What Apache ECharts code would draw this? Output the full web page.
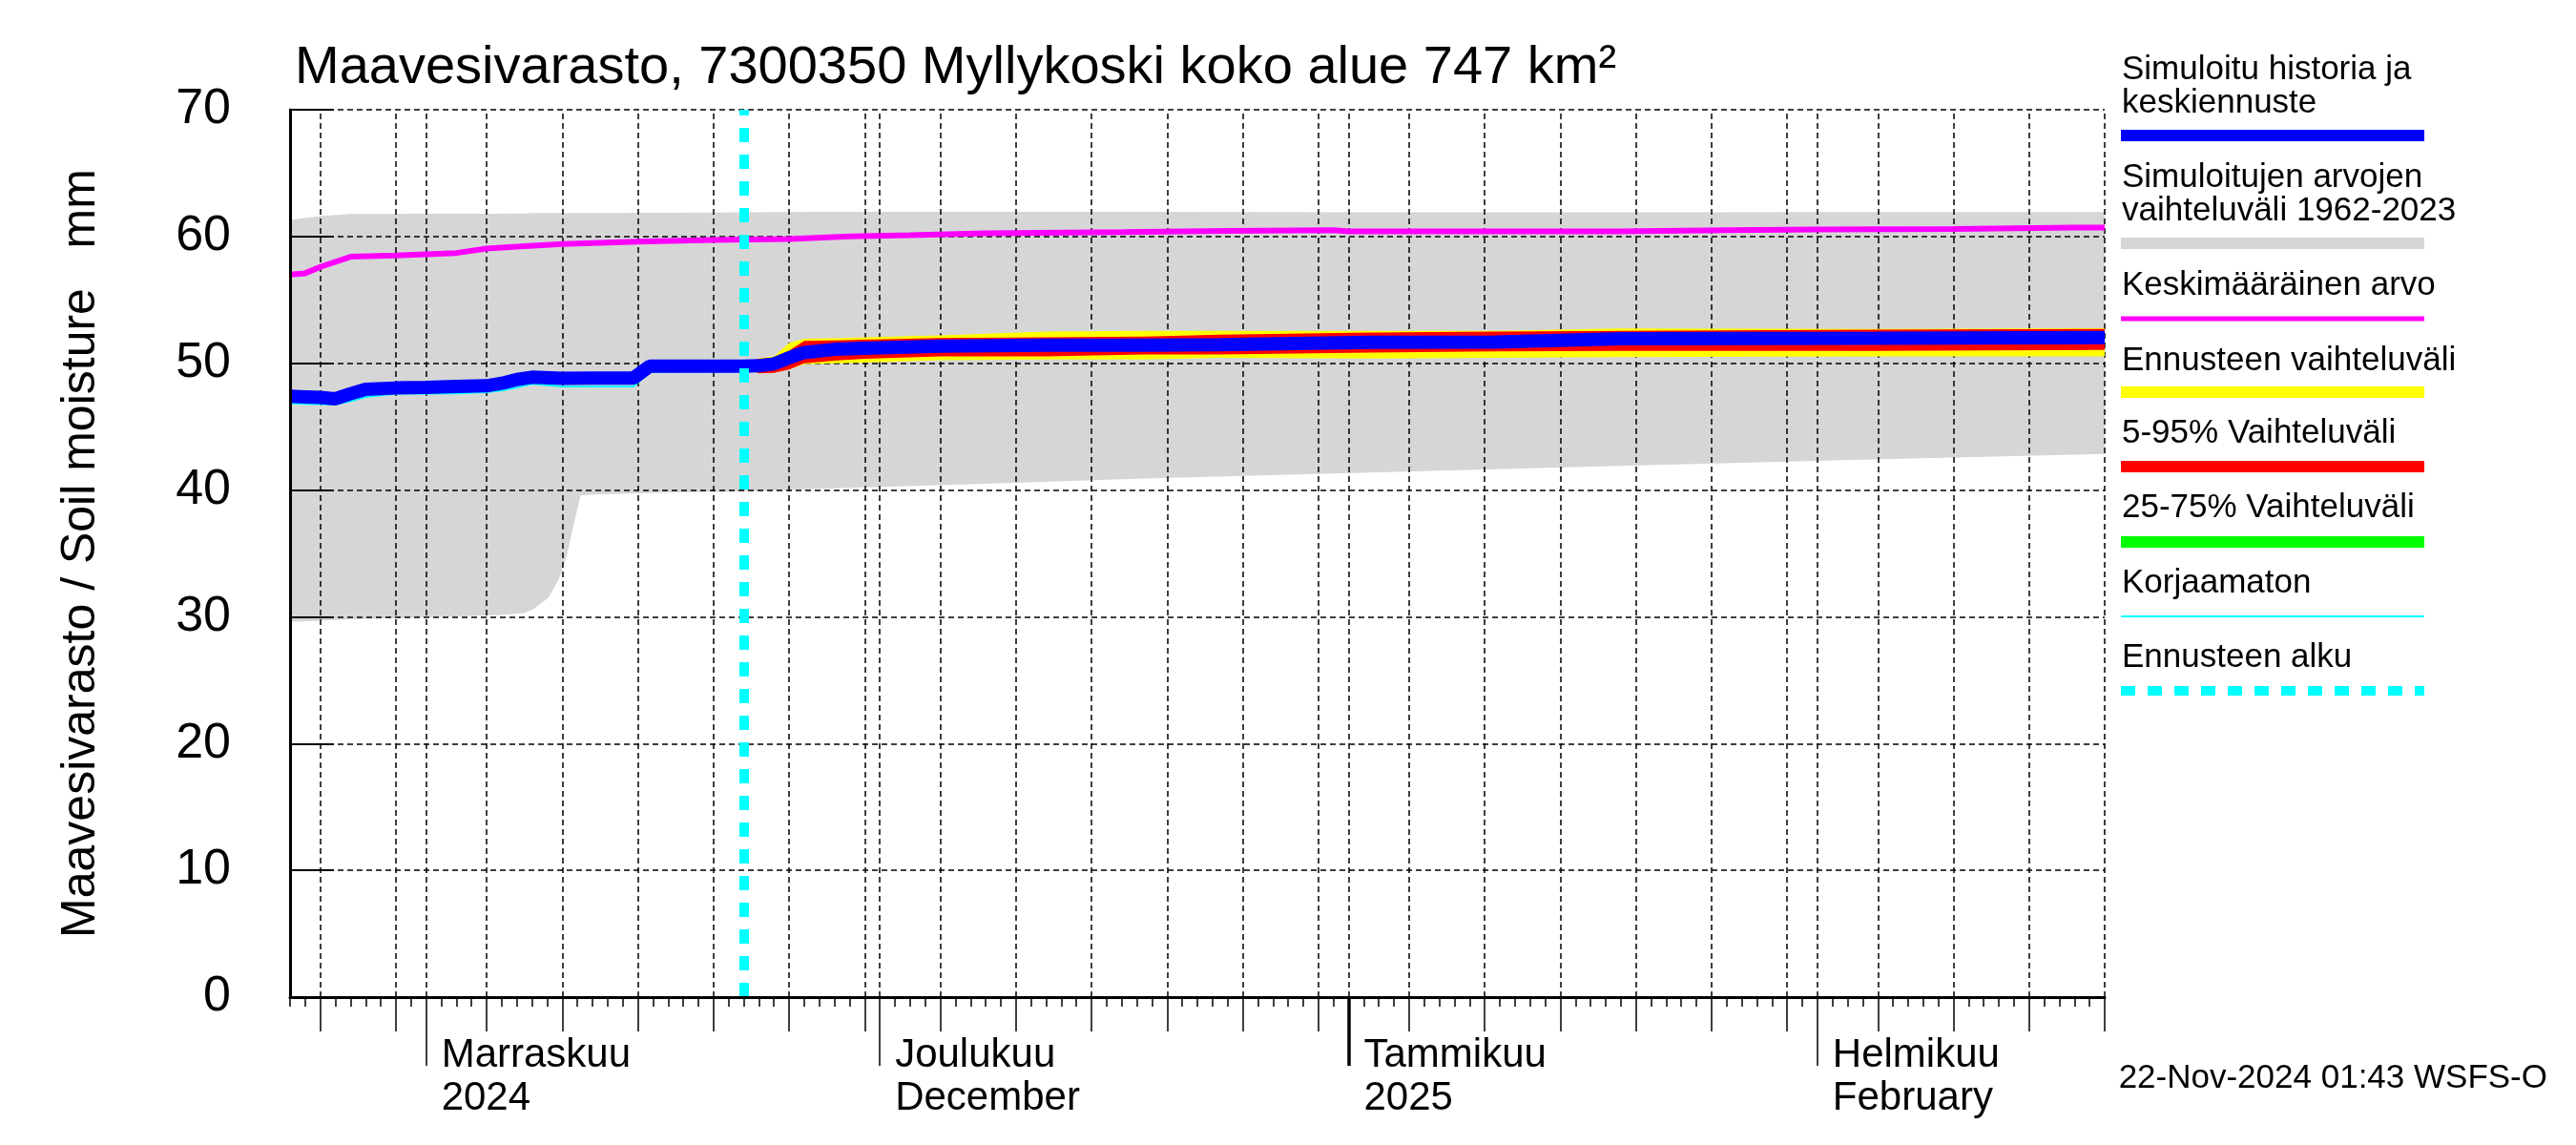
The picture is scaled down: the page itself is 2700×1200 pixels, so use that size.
<!DOCTYPE html>
<html><head><meta charset="utf-8">
<script src="https://cdn.jsdelivr.net/npm/echarts@6/dist/echarts.min.js"></script>
<style>html,body{margin:0;padding:0;background:#fff}#c{width:2700px;height:1200px}</style>
</head><body><div id="c"></div>
<script>
const FONT = "'Liberation Sans', Arial, Helvetica, sans-serif";

// ---------- data ----------
const titleText = 'Maavesivarasto, 7300350 Myllykoski koko alue 747 km²';
const yAxisName = 'Maavesivarasto / Soil moisture   mm';
const footerText = '22-Nov-2024 01:43 WSFS-O';
const xMin = '2024-10-23';
const xMax = '2025-02-20';
const forecastStart = '2024-11-22';
const yTicks = [0, 10, 20, 30, 40, 50, 60, 70];

const monthStarts = ['2024-11-01', '2024-12-01', '2025-01-01', '2025-02-01'];
const monthLabels = ['Marraskuu\n2024', 'Joulukuu\nDecember', 'Tammikuu\n2025', 'Helmikuu\nFebruary'];
const yearStarts = ['2025-01-01'];
const gridDates = ['2024-10-25', '2024-10-30', '2024-11-01', '2024-11-05', '2024-11-10', '2024-11-15',
  '2024-11-20', '2024-11-25', '2024-11-30', '2024-12-01', '2024-12-05', '2024-12-10', '2024-12-15',
  '2024-12-20', '2024-12-25', '2024-12-30', '2025-01-01', '2025-01-05', '2025-01-10', '2025-01-15',
  '2025-01-20', '2025-01-25', '2025-01-30', '2025-02-01', '2025-02-05', '2025-02-10', '2025-02-15',
  '2025-02-20'];

// simulated range 1962-2023
const climDates = ['2024-10-23', '2024-10-25', '2024-10-27', '2024-11-01', '2024-11-06', '2024-11-07 12:00',
  '2024-11-08 02:00', '2024-11-09 02:00', '2024-11-09 19:00', '2024-11-10 07:00', '2024-11-10 17:00',
  '2024-11-11 05:00', '2024-11-12', '2024-11-17', '2024-11-22', '2024-11-27', '2024-12-08',
  '2024-12-18 12:00', '2025-01-03', '2025-01-19', '2025-02-04', '2025-02-20'];
const climLow = [29.6, 29.7, 29.8, 29.95, 30.15, 30.3, 30.6, 31.5, 33.0, 34.8, 37.0, 39.57, 39.65, 39.8,
  39.9, 40.1, 40.5, 40.9, 41.4, 41.9, 42.4, 42.85];
const climHigh = [61.3, 61.6, 61.77, 61.8, 61.8, 61.82, 61.85, 61.85, 61.85, 61.85, 61.85, 61.85, 61.85,
  61.88, 61.9, 61.95, 61.95, 61.95, 61.9, 61.9, 61.92, 61.92];

// mean value
const meanDates = ['2024-10-23', '2024-10-24', '2024-10-25', '2024-10-27', '2024-10-30', '2024-11-01',
  '2024-11-03', '2024-11-05', '2024-11-07', '2024-11-10', '2024-11-15', '2024-11-20', '2024-11-25',
  '2024-11-29', '2024-12-03', '2024-12-08', '2024-12-17', '2024-12-24', '2024-12-31', '2025-01-01',
  '2025-01-19', '2025-01-26', '2025-02-01', '2025-02-10', '2025-02-18', '2025-02-20'];
const meanValues = [57.0, 57.1, 57.6, 58.4, 58.5, 58.6, 58.7, 59.05, 59.2, 59.4, 59.6, 59.72, 59.8, 60.0,
  60.1, 60.25, 60.35, 60.45, 60.5, 60.4, 60.4, 60.5, 60.55, 60.6, 60.7, 60.7];

// simulated history (blue) and uncorrected (cyan)
const histDates = ['2024-10-23', '2024-10-24', '2024-10-25', '2024-10-26', '2024-10-27', '2024-10-28',
  '2024-10-30', '2024-11-01', '2024-11-03', '2024-11-05', '2024-11-06', '2024-11-07', '2024-11-08',
  '2024-11-10', '2024-11-12', '2024-11-14 17:00', '2024-11-15 19:00', '2024-11-18', '2024-11-22'];
const histValues = [47.4, 47.35, 47.3, 47.2, 47.6, 47.95, 48.05, 48.1, 48.17, 48.22, 48.42, 48.72, 48.9,
  48.82, 48.83, 48.83, 49.78, 49.78, 49.78];
const rawValues = [46.85, 46.8, 46.78, 46.75, 47.0, 47.34, 47.6, 47.6, 47.62, 47.72, 47.85, 48.1, 48.37,
  48.17, 48.17, 48.17, 49.3, 49.35, 49.35];

// forecast
const fcDates = ['2024-11-22', '2024-11-23', '2024-11-24', '2024-11-25', '2024-11-26', '2024-11-28',
  '2024-11-30', '2024-12-05', '2024-12-12', '2024-12-18 12:00', '2024-12-23 12:00', '2025-01-02 12:00',
  '2025-01-10 17:00', '2025-01-19', '2025-02-04 22:00', '2025-02-20'];
const fcMedian = [49.78, 49.8, 49.95, 50.43, 50.85, 51.1, 51.18, 51.36, 51.42, 51.43, 51.46, 51.66, 51.68,
  51.93, 51.98, 52.03];
const fcMax = [49.78, 50.4, 50.55, 51.6, 51.93, 51.98, 52.05, 52.2, 52.5, 52.56, 52.56, 52.56, 52.56,
  52.74, 52.7, 52.76];
const fcMin = [49.78, 49.2, 49.25, 49.5, 49.93, 50.0, 50.05, 50.25, 50.3, 50.3, 50.43, 50.38, 50.43,
  50.48, 50.55, 50.55];
const fc95 = [49.78, 50.35, 50.45, 51.0, 51.76, 51.8, 51.86, 52.0, 52.05, 52.1, 52.26, 52.43, 52.5,
  52.56, 52.65, 52.7];
const fc5 = [49.78, 49.2, 49.25, 49.5, 50.0, 50.2, 50.35, 50.55, 50.55, 50.7, 50.7, 50.85, 50.93, 50.98,
  50.98, 51.06];
const fc75 = [49.78, 50.0, 50.2, 50.7, 51.1, 51.35, 51.45, 51.6, 51.65, 51.7, 51.72, 51.9, 51.92, 52.15,
  52.2, 52.25];
const fc25 = [49.78, 49.6, 49.7, 50.1, 50.55, 50.85, 50.92, 51.1, 51.18, 51.2, 51.2, 51.4, 51.42, 51.7,
  51.75, 51.8];

// ---------- build ----------
function T(s) {
  const m = s.match(/^(\d+)-(\d+)-(\d+)(?: (\d+):(\d+))?$/);
  return Date.UTC(+m[1], +m[2] - 1, +m[3], m[4] ? +m[4] : 0, m[5] ? +m[5] : 0);
}
const DAY = 86400000;
const zip = (d, v) => d.map((x, i) => [T(x), v[i]]);
const diff = (d, lo, hi) => d.map((x, i) => [T(x), +(hi[i] - lo[i]).toFixed(3)]);

const dayTicks = [];
for (let t = T(xMin); t <= T(xMax); t += DAY) dayTicks.push(t);

function band(id, dates, lo, hi, color, z) {
  return [
    { type: 'line', stack: id, data: zip(dates, lo), symbol: 'none', lineStyle: { width: 0, opacity: 0 },
      z: z, silent: true, animation: false },
    { type: 'line', stack: id, data: diff(dates, lo, hi), symbol: 'none', lineStyle: { width: 0, opacity: 0 },
      areaStyle: { color: color, opacity: 1 }, z: z, silent: true, animation: false }
  ];
}

const blueData = zip(histDates, histValues).concat(zip(fcDates.slice(1), fcMedian.slice(1)));

const baseX = {
  type: 'value', min: T(xMin), max: T(xMax), position: 'bottom', z: 10, scale: true,
  axisLine: { show: false, onZero: false }, splitLine: { show: false }, axisLabel: { show: false },
  axisTick: { show: false }, axisPointer: { show: false }
};

const gridLines = gridDates.map(d => ({ xAxis: T(d) })).concat(yTicks.slice(1).map(v => ({ yAxis: v })));

const series = [].concat(
  band('clim', climDates, climLow, climHigh, '#d6d6d6', 1),
  [{ type: 'line', data: [], z: 2, silent: true,
     markLine: { silent: true, symbol: 'none', z: 2, animation: false, label: { show: false },
       lineStyle: { color: '#000', width: 1.5, type: [6, 4] }, data: gridLines } }],
  band('fcmm', fcDates, fcMin, fcMax, '#ffff00', 3),
  band('fc595', fcDates, fc5, fc95, '#ff0000', 3),
  band('fc2575', fcDates, fc25, fc75, '#00ff00', 3),
  [
    { type: 'line', data: zip(meanDates, meanValues), symbol: 'none', z: 4, silent: true, animation: false,
      lineStyle: { color: '#ff00ff', width: 6 } },
    { type: 'line', data: zip(histDates, rawValues), symbol: 'none', z: 4, silent: true, animation: false,
      lineStyle: { color: '#00ffff', width: 2 } },
    { type: 'line', data: blueData, symbol: 'none', z: 5, silent: true, animation: false,
      lineStyle: { color: '#0000ff', width: 14 } },
    { type: 'line', data: [], z: 6, silent: true,
      markLine: { silent: true, symbol: 'none', z: 6, animation: false, label: { show: false },
        lineStyle: { color: '#00ffff', width: 10, type: [15, 13] }, data: [{ xAxis: T(forecastStart) }] } }
  ]
);

// legend (graphic)
const legendItems = [
  { lines: ['Simuloitu historia ja', 'keskiennuste'], color: '#0000ff', h: 12 },
  { lines: ['Simuloitujen arvojen', 'vaihteluväli 1962-2023'], color: '#d6d6d6', h: 12 },
  { lines: ['Keskimääräinen arvo'], color: '#ff00ff', h: 5 },
  { lines: ['Ennusteen vaihteluväli'], color: '#ffff00', h: 12 },
  { lines: ['5-95% Vaihteluväli'], color: '#ff0000', h: 12 },
  { lines: ['25-75% Vaihteluväli'], color: '#00ff00', h: 12 },
  { lines: ['Korjaamaton'], color: '#00ffff', h: 2 },
  { lines: ['Ennusteen alku'], color: '#00ffff', h: 10, dashed: true }
];
const legTextY = [73.5, 186.5, 299.5, 378.5, 454.5, 532.5, 611.5, 689.5];
const legLineY = [142, 255, 334, 411, 489, 568, 646, 724];
const graphics = [];
legendItems.forEach((it, i) => {
  it.lines.forEach((ln, j) => {
    graphics.push({ type: 'text', x: 2224, y: legTextY[i] + j * 35, silent: true,
      style: { text: ln, font: '35px ' + FONT, fill: '#000', verticalAlign: 'middle', align: 'left' } });
  });
  graphics.push({ type: 'line', silent: true,
    shape: { x1: 2223, y1: legLineY[i], x2: 2541, y2: legLineY[i] },
    style: { stroke: it.color, lineWidth: it.h, lineDash: it.dashed ? [15, 13] : null } });
});
graphics.push({ type: 'text', x: 2670, y: 1130, silent: true,
  style: { text: footerText, font: '35px ' + FONT, fill: '#000', verticalAlign: 'middle', align: 'right' } });

const monthTs = monthStarts.map(T);

const option = {
  backgroundColor: '#fff',
  animation: false,
  textStyle: { fontFamily: FONT },
  title: { text: titleText, left: 304, top: 39,
    textStyle: { fontSize: 56, fontWeight: 'normal', color: '#000', fontFamily: FONT, lineHeight: 56 } },
  grid: { left: 304, top: 115, width: 1902, height: 930, containLabel: false },
  xAxis: [
    { type: 'time', min: T(xMin), max: T(xMax), position: 'bottom', z: 10,
      axisLine: { show: false, onZero: false }, splitLine: { show: false }, axisLabel: { show: false },
      axisTick: { show: false }, axisPointer: { show: false } },
    Object.assign({}, baseX, { axisLine: { show: true, onZero: false, lineStyle: { color: '#000', width: 3 } },
      axisTick: { show: true, inside: false, length: 10, customValues: dayTicks, lineStyle: { color: '#000', width: 1.5 } } }),
    Object.assign({}, baseX, { axisTick: { show: true, inside: false, length: 36,
      customValues: gridDates.map(T), lineStyle: { color: '#000', width: 1.5 } } }),
    Object.assign({}, baseX, {
      axisTick: { show: true, inside: false, length: 72, customValues: monthTs, lineStyle: { color: '#000', width: 1.5 } },
      axisLabel: { show: true, customValues: monthTs, margin: 39, align: 'left', padding: [0, 0, 0, 16],
        fontSize: 42, lineHeight: 45, color: '#000', fontFamily: FONT,
        formatter: (v) => { const i = monthTs.indexOf(v); return i >= 0 ? monthLabels[i] : ''; } } }),
    Object.assign({}, baseX, { axisTick: { show: true, inside: false, length: 72,
      customValues: yearStarts.map(T), lineStyle: { color: '#000', width: 3.5 } } })
  ],
  yAxis: {
    type: 'value', min: 0, max: 70, interval: 10, z: 10,
    name: yAxisName, nameLocation: 'middle', nameGap: 194,
    nameTextStyle: { fontSize: 50, color: '#000', fontFamily: FONT },
    axisLine: { show: true, onZero: false, lineStyle: { color: '#000', width: 3 } },
    axisTick: { show: true, inside: true, length: 46, lineStyle: { color: '#000', width: 2 } },
    axisLabel: { fontSize: 52, margin: 62, color: '#000', fontFamily: FONT, padding: [0, 0, 16, 0] },
    splitLine: { show: false }
  },
  graphic: graphics,
  series: series
};

const chart = echarts.init(document.getElementById('c'), null, { renderer: 'canvas' });
chart.setOption(option);
</script></body></html>
